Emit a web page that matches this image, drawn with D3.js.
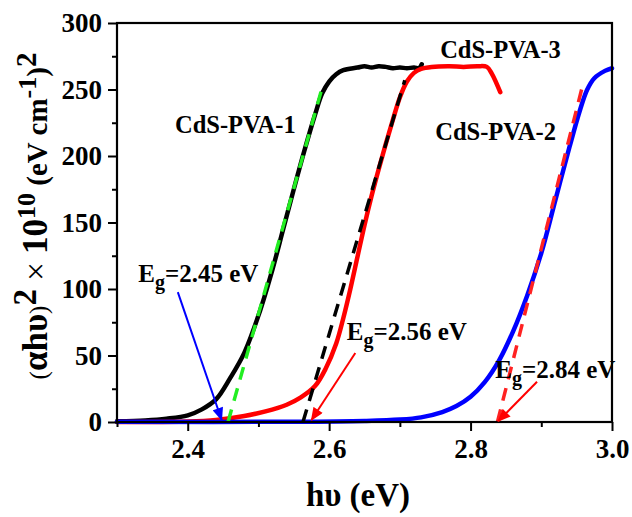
<!DOCTYPE html>
<html><head><meta charset="utf-8">
<script src="https://cdn.jsdelivr.net/npm/d3@7"></script>
<style>
html,body{margin:0;padding:0;background:#fff;}
svg text{font-family:"Liberation Serif","Times New Roman",serif;font-weight:bold;}
</style></head>
<body><svg id="c" width="632" height="517"></svg>
<script>
// ---- data ----
const xTicks = [2.4, 2.6, 2.8, 3.0];
const xMinor = [2.3, 2.5, 2.7, 2.9];
const yTicks = [0, 50, 100, 150, 200, 250, 300];
const yMinor = [25, 75, 125, 175, 225, 275];

const pva1X = [2.30,2.34,2.37,2.40,2.42,2.44,2.46,2.48,2.50,2.52,2.535,2.55,2.565,2.58,2.59,2.60,2.61,2.62,2.64,2.65,2.66,2.67,2.68,2.69,2.70,2.71,2.72,2.727,2.731];
const pva1Y = [0.5,1.2,2.5,5,9.5,17,33,52,80,115,145,175,204,231,247,256,261.5,264.5,266.5,267.5,266.5,267.5,267,266,266.5,266,266.5,266,269];

const pva3X = [2.30,2.40,2.44,2.48,2.51,2.54,2.56,2.58,2.595,2.61,2.62,2.63,2.64,2.65,2.66,2.67,2.68,2.69,2.70,2.71,2.72,2.73,2.745,2.77,2.79,2.81,2.823,2.83,2.842];
const pva3Y = [0,0.3,1.5,4.5,8,13,18.5,27,40,59,78,100,124,148,170,190,209,227,244,256,262.5,265.5,267,267.5,267,267.5,267,262,248];

const pva2X = [2.30,2.55,2.65,2.70,2.73,2.76,2.78,2.80,2.82,2.84,2.86,2.88,2.90,2.92,2.94,2.955,2.965,2.975,2.99,3.00];
const pva2Y = [0.1,0.2,0.8,1.8,3.5,7.5,12,19,30,46,68,95,127,167,207,235,250,258.5,264,266];

// linear fits (x-intercept gives Eg)
const fit1X = [2.457, 2.591], fit1Y = [0, 253];
const fit3X = [2.563, 2.707], fit3Y = [0, 257];
const fit2X = [2.838, 2.957], fit2Y = [0, 250];

// ---- drawing ----
const svg = d3.select("#c");
const x = d3.scaleLinear().domain([2.3, 3.0]).range([117, 612]);
const y = d3.scaleLinear().domain([0, 300]).range([422, 23]);

const line = d3.line().x(d => x(d[0])).y(d => y(d[1])).curve(d3.curveCatmullRom.alpha(0.5));
const zip = (a, b) => a.map((v, i) => [v, b[i]]);

function curve(xs, ys, color) {
  svg.append("path").datum(zip(xs, ys)).attr("d", line)
    .attr("fill", "none").attr("stroke", color).attr("stroke-width", 4.5)
    .attr("stroke-linejoin", "round").attr("stroke-linecap", "round");
}
function fit(xs, ys, color) {
  svg.append("path").datum(zip(xs, ys)).attr("d", d3.line().x(d => x(d[0])).y(d => y(d[1])))
    .attr("fill", "none").attr("stroke", color).attr("stroke-width", 3.5)
    .attr("stroke-dasharray", "13,9");
}

curve(pva1X, pva1Y, "#000000");
curve(pva3X, pva3Y, "#ff0000");
curve(pva2X, pva2Y, "#0000ff");
fit(fit1X, fit1Y, "#22ee22");
fit(fit3X, fit3Y, "#000000");
fit(fit2X, fit2Y, "#ff2222");

// axes
const xAxis = d3.axisBottom(x).tickValues(xTicks).tickFormat(d3.format(".1f")).tickSize(9).tickPadding(8);
const xAxisMinor = d3.axisBottom(x).tickValues(xMinor).tickFormat("").tickSize(5);
const yAxis = d3.axisLeft(y).tickValues(yTicks).tickFormat(d3.format("d")).tickSize(9).tickPadding(6);
const yAxisMinor = d3.axisLeft(y).tickValues(yMinor).tickFormat("").tickSize(5);

function styleAxis(g) {
  g.select(".domain").remove();
  g.selectAll("line").attr("stroke", "#000").attr("stroke-width", 2);
  g.selectAll("text").attr("fill", "#000").style("font-size", "27px").style("font-weight", "bold")
    .style("font-family", "'Liberation Serif','Times New Roman',serif");
}
svg.append("g").attr("transform", "translate(0,422)").call(xAxis).call(styleAxis);
svg.append("g").attr("transform", "translate(0,422)").call(xAxisMinor).call(styleAxis);
svg.append("g").attr("transform", "translate(117,0)").call(yAxis).call(styleAxis);
svg.append("g").attr("transform", "translate(117,0)").call(yAxisMinor).call(styleAxis);

svg.append("rect").attr("x", x(2.3)).attr("y", y(300))
  .attr("width", x(3.0) - x(2.3)).attr("height", y(0) - y(300))
  .attr("fill", "none").attr("stroke", "#000").attr("stroke-width", 2.2);

// arrows
const defs = svg.append("defs");
function marker(id, color) {
  defs.append("marker").attr("id", id).attr("viewBox", "0 0 12 10")
    .attr("refX", 11).attr("refY", 5).attr("markerWidth", 14).attr("markerHeight", 11)
    .attr("markerUnits", "userSpaceOnUse").attr("orient", "auto")
    .append("path").attr("d", "M0,0 L12,5 L0,10 Z").attr("fill", color);
}
marker("ab", "#0000ff");
marker("ar", "#ff0000");
function arrow(x1, y1, x2, y2, color, id) {
  svg.append("line").attr("x1", x(x1)).attr("y1", y(y1)).attr("x2", x(x2)).attr("y2", y(y2))
    .attr("stroke", color).attr("stroke-width", 2).attr("marker-end", `url(#${id})`);
}
arrow(2.386, 97.7, 2.448, 1.5, "#0000ff", "ab");
arrow(2.637, 51.9, 2.575, 1.5, "#ff0000", "ar");
arrow(2.894, 30.3, 2.839, 0.5, "#ff0000", "ar");

// labels
function label(tx, ty, s) {
  svg.append("text").attr("x", x(tx)).attr("y", y(ty)).style("font-size", "24.5px").attr("fill", "#000").text(s);
}
label(2.382, 217, "CdS-PVA-1");
label(2.757, 274, "CdS-PVA-3");
label(2.750, 212, "CdS-PVA-2");

function eg(tx, ty, val) {
  const t = svg.append("text").attr("x", x(tx)).attr("y", y(ty)).style("font-size", "25px").attr("fill", "#000");
  t.append("tspan").text("E");
  t.append("tspan").attr("dy", 7).style("font-size", "20px").text("g");
  t.append("tspan").attr("dy", -7).text("=" + val + " eV");
}
eg(2.330, 105, "2.45");
eg(2.625, 61.7, "2.56");
eg(2.835, 33, "2.84");

// axis titles
svg.append("text").attr("x", 358).attr("y", 506).attr("text-anchor", "middle")
  .style("font-size", "33px").attr("fill", "#000").text("hυ (eV)");

const yt = svg.append("text").attr("transform", "translate(47,216) rotate(-90)")
  .attr("text-anchor", "middle").attr("fill", "#000").style("font-size", "35px");
yt.append("tspan").style("font-size", "25px").style("font-weight", "normal").text("(");
yt.append("tspan").text("αhυ");
yt.append("tspan").style("font-size", "25px").style("font-weight", "normal").text(")");
yt.append("tspan").attr("dy", -11).style("font-size", "33px").text("2");
yt.append("tspan").attr("dy", 11).style("font-weight", "normal").style("font-size", "33px").text(" × ");
yt.append("tspan").text("10");
yt.append("tspan").attr("dy", -12).style("font-size", "26px").text("10");
yt.append("tspan").attr("dy", 12).style("font-size", "29px").text(" (eV cm");
yt.append("tspan").attr("dy", -11).style("font-size", "26px").text("-1");
yt.append("tspan").attr("dy", 11).style("font-size", "29px").text(")");
yt.append("tspan").attr("dy", -11).style("font-size", "29px").text("2");
</script></body></html>
